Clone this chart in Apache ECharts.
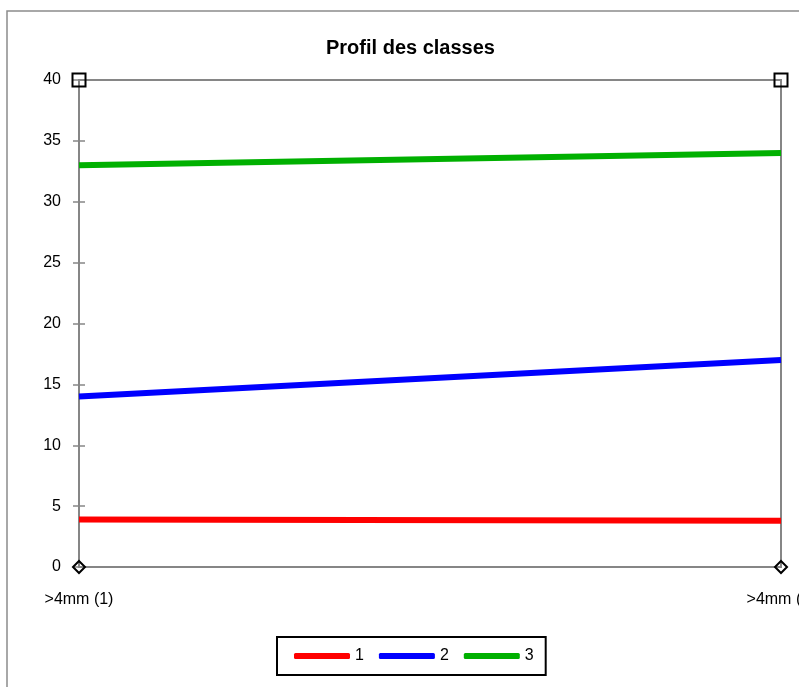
<!DOCTYPE html>
<html>
<head>
<meta charset="utf-8">
<script src="https://cdn.jsdelivr.net/npm/echarts@6/dist/echarts.min.js"></script>
<style>
html,body{margin:0;padding:0;background:#fff;}
#chart{width:799px;height:687px;}
</style>
</head>
<body>
<div id="chart"></div>
<script>
const categories = ['>4mm (1)', '>4mm (2)'];
const seriesNames = ['1', '2', '3'];
const values1 = [3.9, 3.8];
const values2 = [14.0, 17.0];
const values3 = [33.0, 34.0];
const topMarkers = [40, 40];
const bottomMarkers = [0, 0];
const yTicks = {min: 0, max: 40, interval: 5};

const font = '"Liberation Sans", Arial, sans-serif';
const axisGray = '#868686';

const chart = echarts.init(document.getElementById('chart'));
chart.setOption({
  animation: false,
  backgroundColor: '#ffffff',
  graphic: [{
    type: 'rect', z: -10, silent: true,
    shape: {x: 7, y: 11, width: 820, height: 720},
    style: {fill: 'none', stroke: '#8c8c8c', lineWidth: 1.5}
  }],
  title: {
    text: 'Profil des classes',
    left: 326, top: 38,
    padding: 0,
    textStyle: {fontFamily: font, fontWeight: 'bold', fontSize: 20, color: '#000'}
  },
  grid: {
    left: 79, right: 18, top: 80, bottom: 120,
    outerBoundsMode: 'none',
    containLabel: false,
    show: true, borderColor: axisGray, borderWidth: 2, backgroundColor: 'transparent'
  },
  legend: {
    data: seriesNames,
    left: 277, top: 637,
    orient: 'horizontal',
    borderColor: '#000', borderWidth: 2,
    padding: [11, 12, 11, 17],
    itemGap: 15,
    itemWidth: 56, itemHeight: 6,
    icon: 'roundRect',
    textStyle: {fontFamily: font, fontSize: 16, color: '#000'}
  },
  xAxis: {
    type: 'category',
    data: categories,
    boundaryGap: false,
    axisLine: {show: true, lineStyle: {color: axisGray, width: 2}},
    axisTick: {show: false},
    axisLabel: {fontFamily: font, fontSize: 16, color: '#000', margin: 25, interval: 0, hideOverlap: false},
    splitLine: {show: false}
  },
  yAxis: [{
    type: 'value',
    min: yTicks.min, max: yTicks.max, interval: yTicks.interval,
    axisLine: {show: true, lineStyle: {color: axisGray, width: 2}},
    axisTick: {show: true, length: 6, lineStyle: {color: axisGray, width: 1.5}},
    axisLabel: {fontFamily: font, fontSize: 16, color: '#000', margin: 18},
    splitLine: {show: false}
  }, {
    type: 'value',
    position: 'left',
    min: yTicks.min, max: yTicks.max, interval: yTicks.interval,
    axisLine: {show: false},
    axisTick: {show: true, inside: true, length: 6, lineStyle: {color: axisGray, width: 1.5}},
    axisLabel: {show: false},
    splitLine: {show: false}
  }],
  series: [
    {name: seriesNames[0], type: 'line', data: values1, symbol: 'none', color: '#ff0000',
     lineStyle: {width: 6, color: '#ff0000'}, z: 3},
    {name: seriesNames[1], type: 'line', data: values2, symbol: 'none', color: '#0000ff',
     lineStyle: {width: 6, color: '#0000ff'}, z: 3},
    {name: seriesNames[2], type: 'line', data: values3, symbol: 'none', color: '#00b000',
     lineStyle: {width: 6, color: '#00b000'}, z: 3},
    {name: 'top', type: 'line', data: topMarkers, symbol: 'rect', symbolSize: 13,
     showSymbol: true, lineStyle: {width: 0, opacity: 0},
     itemStyle: {color: 'rgba(0,0,0,0)', borderColor: '#000', borderWidth: 2}, z: 5},
    {name: 'bottom', type: 'line', data: bottomMarkers, symbol: 'diamond', symbolSize: 12,
     showSymbol: true, lineStyle: {width: 0, opacity: 0},
     itemStyle: {color: 'rgba(0,0,0,0)', borderColor: '#000', borderWidth: 2}, z: 5}
  ]
});
</script>
</body>
</html>
